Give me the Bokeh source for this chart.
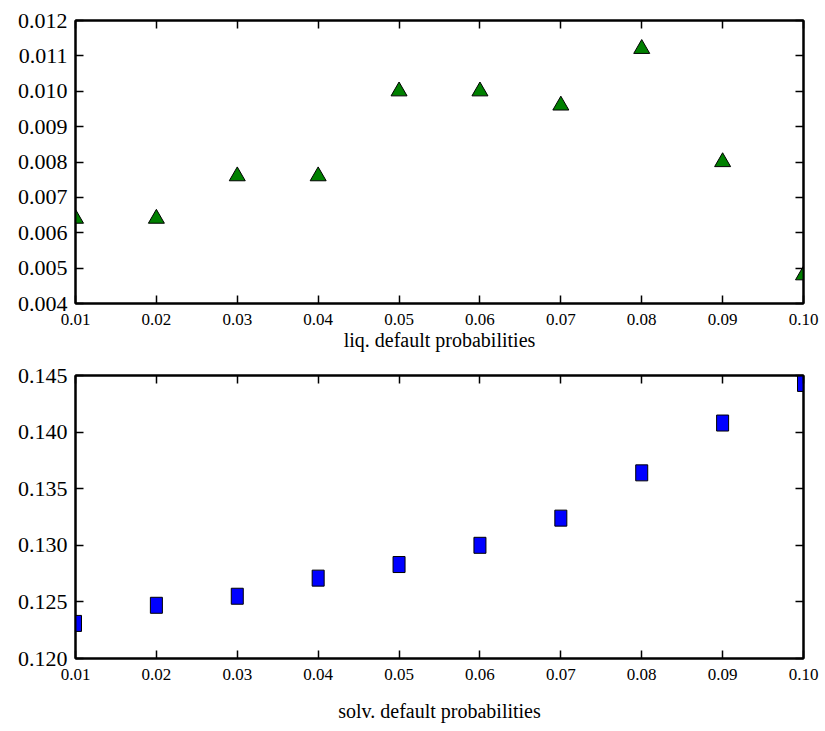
from bokeh.plotting import figure
from bokeh.layouts import column
from bokeh.models import (LinearAxis, FixedTicker, PrintfTickFormatter, Range1d,
                          ColumnDataSource, CustomJSTickFormatter)
from bokeh.embed import file_html
from bokeh.resources import INLINE

# default probabilities on the horizontal axis
probabilities = [0.01, 0.02, 0.03, 0.04, 0.05, 0.06, 0.07, 0.08, 0.09, 0.10]
x_ticks = [0.01, 0.02, 0.03, 0.04, 0.05, 0.06, 0.07, 0.08, 0.09, 0.10]

# liquidity default results
liq_values = [0.0064, 0.0064, 0.0076, 0.0076, 0.0100, 0.0100, 0.0096, 0.0112, 0.0080, 0.0048]
liq_ticks = [0.004, 0.005, 0.006, 0.007, 0.008, 0.009, 0.010, 0.011, 0.012]

# solvency default results
solv_values = [0.1231, 0.1247, 0.1255, 0.1271, 0.1283, 0.1300, 0.1324, 0.1364, 0.1408, 0.1443]
solv_ticks = [0.120, 0.125, 0.130, 0.135, 0.140, 0.145]

FONT = "Liberation Serif"


def style_axis(axis):
    axis.axis_line_color = "black"
    axis.axis_line_width = 2
    axis.major_tick_line_color = "black"
    axis.major_tick_line_width = 1.5
    axis.major_tick_in = 8
    axis.major_tick_out = 0
    axis.minor_tick_line_color = None
    axis.major_label_text_font = FONT
    axis.major_label_text_color = "black"


def tick_only_axis(ticks):
    # mirror axis on the top/right: inward ticks, no labels
    ax = LinearAxis(ticker=FixedTicker(ticks=ticks),
                    formatter=CustomJSTickFormatter(code="return ''"))
    style_axis(ax)
    ax.major_label_standoff = 0
    return ax


def make_panel(y_ticks, y_lo, y_hi, xlabel, bottom, label_standoff):
    p = figure(
        frame_width=728, frame_height=283,
        x_range=Range1d(0.01, 0.10), y_range=Range1d(y_lo, y_hi),
        output_backend="svg", toolbar_location=None,
        min_border_left=75, min_border_right=22,
        min_border_top=20, min_border_bottom=bottom,
        background_fill_color="white", border_fill_color="white",
    )
    p.grid.visible = False
    p.outline_line_color = "black"
    p.outline_line_width = 2

    p.xaxis.ticker = FixedTicker(ticks=x_ticks)
    p.xaxis.formatter = PrintfTickFormatter(format="%.2f")
    p.yaxis.ticker = FixedTicker(ticks=y_ticks)
    p.yaxis.formatter = PrintfTickFormatter(format="%.3f")
    for ax in p.xaxis:
        style_axis(ax)
        ax.major_label_text_font_size = "17px"
        ax.major_label_standoff = 10
        ax.axis_label = xlabel
        ax.axis_label_text_font = FONT
        ax.axis_label_text_font_size = "20px"
        ax.axis_label_text_font_style = "normal"
        ax.axis_label_text_color = "black"
        ax.axis_label_standoff = label_standoff
    for ax in p.yaxis:
        style_axis(ax)
        ax.major_label_text_font_size = "22px"
        ax.major_label_standoff = 8

    p.add_layout(tick_only_axis(x_ticks), "above")
    p.add_layout(tick_only_axis(y_ticks), "right")
    return p


liq_src = ColumnDataSource(dict(x=probabilities, y=liq_values))
p1 = make_panel(liq_ticks, 0.004, 0.012, "liq. default probabilities", 52, 1)
p1.scatter("x", "y", source=liq_src, marker="triangle", size=16,
           fill_color="#008000", line_color="black", line_width=1)

solv_src = ColumnDataSource(dict(x=probabilities, y=solv_values))
p2 = make_panel(solv_ticks, 0.120, 0.145, "solv. default probabilities", 73, 17)
p2.rect("x", "y", source=solv_src, width=12, height=16,
        width_units="screen", height_units="screen",
        fill_color="#0000ff", line_color="black", line_width=1)

layout = column(p1, p2, spacing=0)
open("out.html", "w").write(file_html(layout, INLINE))
